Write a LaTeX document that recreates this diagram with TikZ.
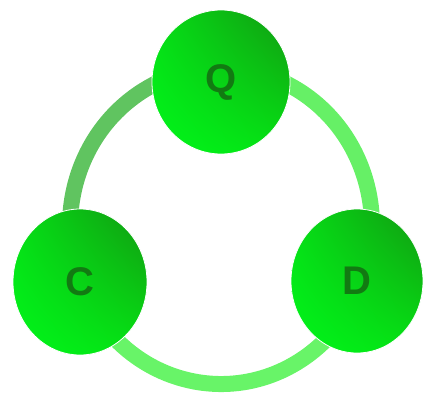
\documentclass[tikz,border=0pt]{standalone}
\usepackage{fontspec}
\setmainfont{Liberation Sans}
\usetikzlibrary{shapes.geometric,shadings}
\definecolor{ringdark}{RGB}{96,196,96}
\definecolor{ringlight}{RGB}{102,240,102}
\definecolor{ringbottom}{RGB}{104,244,104}
\definecolor{gbright}{RGB}{0,246,26}
\definecolor{gmid}{RGB}{6,222,22}
\definecolor{gdark}{RGB}{18,152,18}
\definecolor{gmid2}{RGB}{6,226,20}
\definecolor{letter}{RGB}{18,122,18}
\tikzset{
  ball/.style={ellipse, inner sep=0pt, draw=white, line width=0.8pt,
    lower left=gbright, upper left=gmid, upper right=gdark, lower right=gmid2,
    font=\fontsize{40}{40}\selectfont\bfseries, text=letter},
  ringarc/.style={line width=16pt}
}
\begin{document}
\begin{tikzpicture}[x=1pt,y=-1pt]
\useasboundingbox (0,0) rectangle (424,392);
\coordinate (rc) at (221,226);
\draw[ringarc, ringdark] (rc) ++(145:151 and 158) arc[start angle=145, end angle=285, x radius=151, y radius=158];
\draw[ringarc, ringlight] (rc) ++(255:151 and 158) arc[start angle=255, end angle=395, x radius=151, y radius=158];
\draw[ringarc, ringbottom] (rc) ++(10:151 and 158) arc[start angle=10, end angle=170, x radius=151, y radius=158];
\node[ball, minimum width=138pt, minimum height=144pt] (Q) at (221,82) {Q};
\node[ball, minimum width=134pt, minimum height=146pt] (C) at (80,282) {C};
\node[ball, minimum width=132pt, minimum height=144pt] (D) at (357,281) {D};
\end{tikzpicture}
\end{document}
